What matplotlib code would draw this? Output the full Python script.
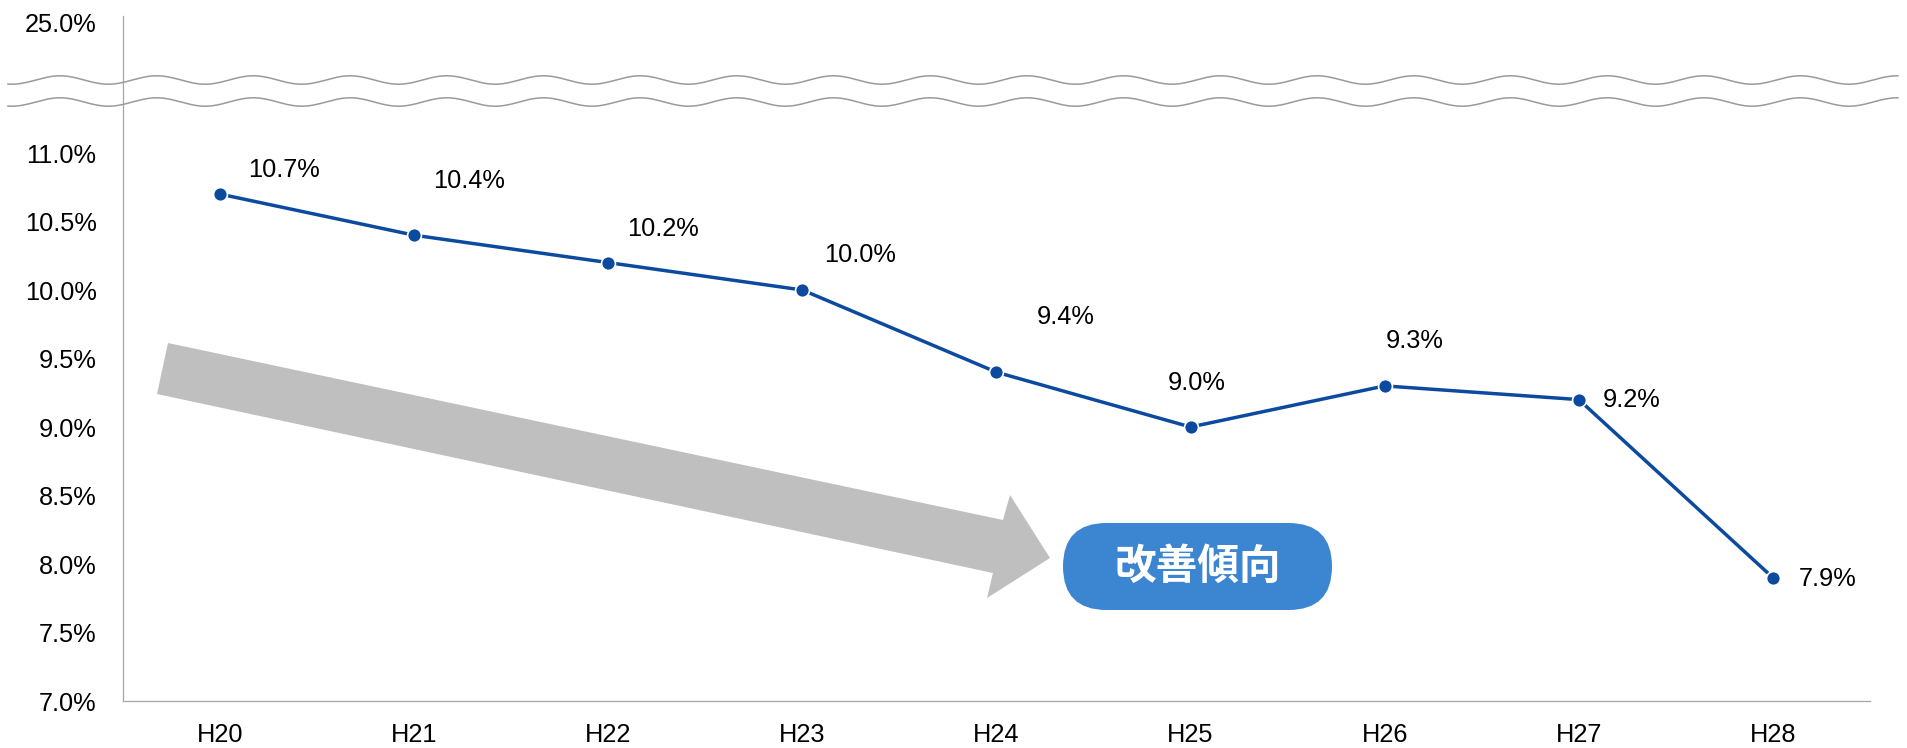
import matplotlib
matplotlib.use("Agg")
from matplotlib import pyplot as plt
from matplotlib.patches import Polygon, FancyBboxPatch
from matplotlib.lines import Line2D
from matplotlib.transforms import IdentityTransform
import numpy as np

years = ["H20", "H21", "H22", "H23", "H24", "H25", "H26", "H27", "H28"]
rates = [10.7, 10.4, 10.2, 10.0, 9.4, 9.0, 9.3, 9.2, 7.9]

# label offsets from each point, in pixels (dx right, dy down)
label_dx = [64, 55, 55, 58, 69, 6, 30, 53, 55]
label_dy = [-24, -54, -34, -35, -55, -44, -45, 0, 1]

lower_ticks = [7.0, 7.5, 8.0, 8.5, 9.0, 9.5, 10.0, 10.5, 11.0]
top_tick = 25.0
top_tick_pos = 11.95   # where the 25.0% tick sits above the break

W, H = 1908, 748
LINE = "#0B4A9F"
GREY = "#A6A6A6"

plt.rcParams["font.family"] = ["Liberation Sans", "Noto Sans CJK JP", "DejaVu Sans"]

fig = plt.figure(figsize=(W / 100, H / 100), dpi=100)
ax = fig.add_axes([123 / W, 1 - 701 / H, (1870 - 123) / W, (701 - 16) / H])

x = np.arange(len(years))
ax.plot(x, rates, color=LINE, lw=2.5, marker="o", ms=10,
        markerfacecolor=LINE, markeredgecolor="white", markeredgewidth=1.2,
        zorder=5)

for xi, v, dx, dy in zip(x, rates, label_dx, label_dy):
    ax.annotate(f"{v:.1f}%", (xi, v), xytext=(dx * 0.72, -dy * 0.72),
                textcoords="offset points", ha="center", va="center",
                fontsize=18.3, color="black")

ax.set_xlim(-0.5, len(years) - 0.5)
ax.set_ylim(7.0, 12.0)
ax.set_xticks(x)
ax.set_xticklabels(years)
ax.set_yticks(lower_ticks + [top_tick_pos])
ax.set_yticklabels([f"{v:.1f}%" for v in lower_ticks] + [f"{top_tick:.1f}%"])
ax.tick_params(axis="both", length=0, labelsize=18.3, colors="black")
ax.tick_params(axis="y", pad=19)
ax.tick_params(axis="x", pad=16)

for s in ["top", "right"]:
    ax.spines[s].set_visible(False)
for s in ["left", "bottom"]:
    ax.spines[s].set_color(GREY)
    ax.spines[s].set_linewidth(0.9)

# wavy break marks across the whole width
wx = np.linspace(8, 1898, 1200)
for yc in [80, 102]:
    wy = yc - 4.2 * np.cos(2 * np.pi * (wx - 60) / 96.7)
    fig.add_artist(Line2D(wx, H - wy, transform=IdentityTransform(),
                          color="#9A9A9A", lw=1.1))

# downward trend arrow
arrow_px = [(168, 343), (1003, 520), (1010, 495), (1050, 558),
            (987, 598), (993, 573), (157, 394)]
fig.add_artist(Polygon([(px, H - py) for px, py in arrow_px], closed=True,
                       transform=IdentityTransform(), facecolor="#BFBFBF",
                       edgecolor="none", zorder=1))

# rounded label
bx, by, bw, bh = 1063, 610, 269, 87
fig.add_artist(FancyBboxPatch((bx, H - by), bw, bh,
                              boxstyle=f"round,pad=0,rounding_size={bh / 2}",
                              transform=IdentityTransform(),
                              facecolor="#3C85D0", edgecolor="none", zorder=2))
fig.text((bx + bw / 2) / W, 1 - (by - bh / 2) / H, "改善傾向",
         ha="center", va="center", color="white", fontsize=30,
         fontweight="bold", family=["Noto Sans CJK JP", "DejaVu Sans"],
         zorder=3)

fig.savefig("out.png", dpi=100)
